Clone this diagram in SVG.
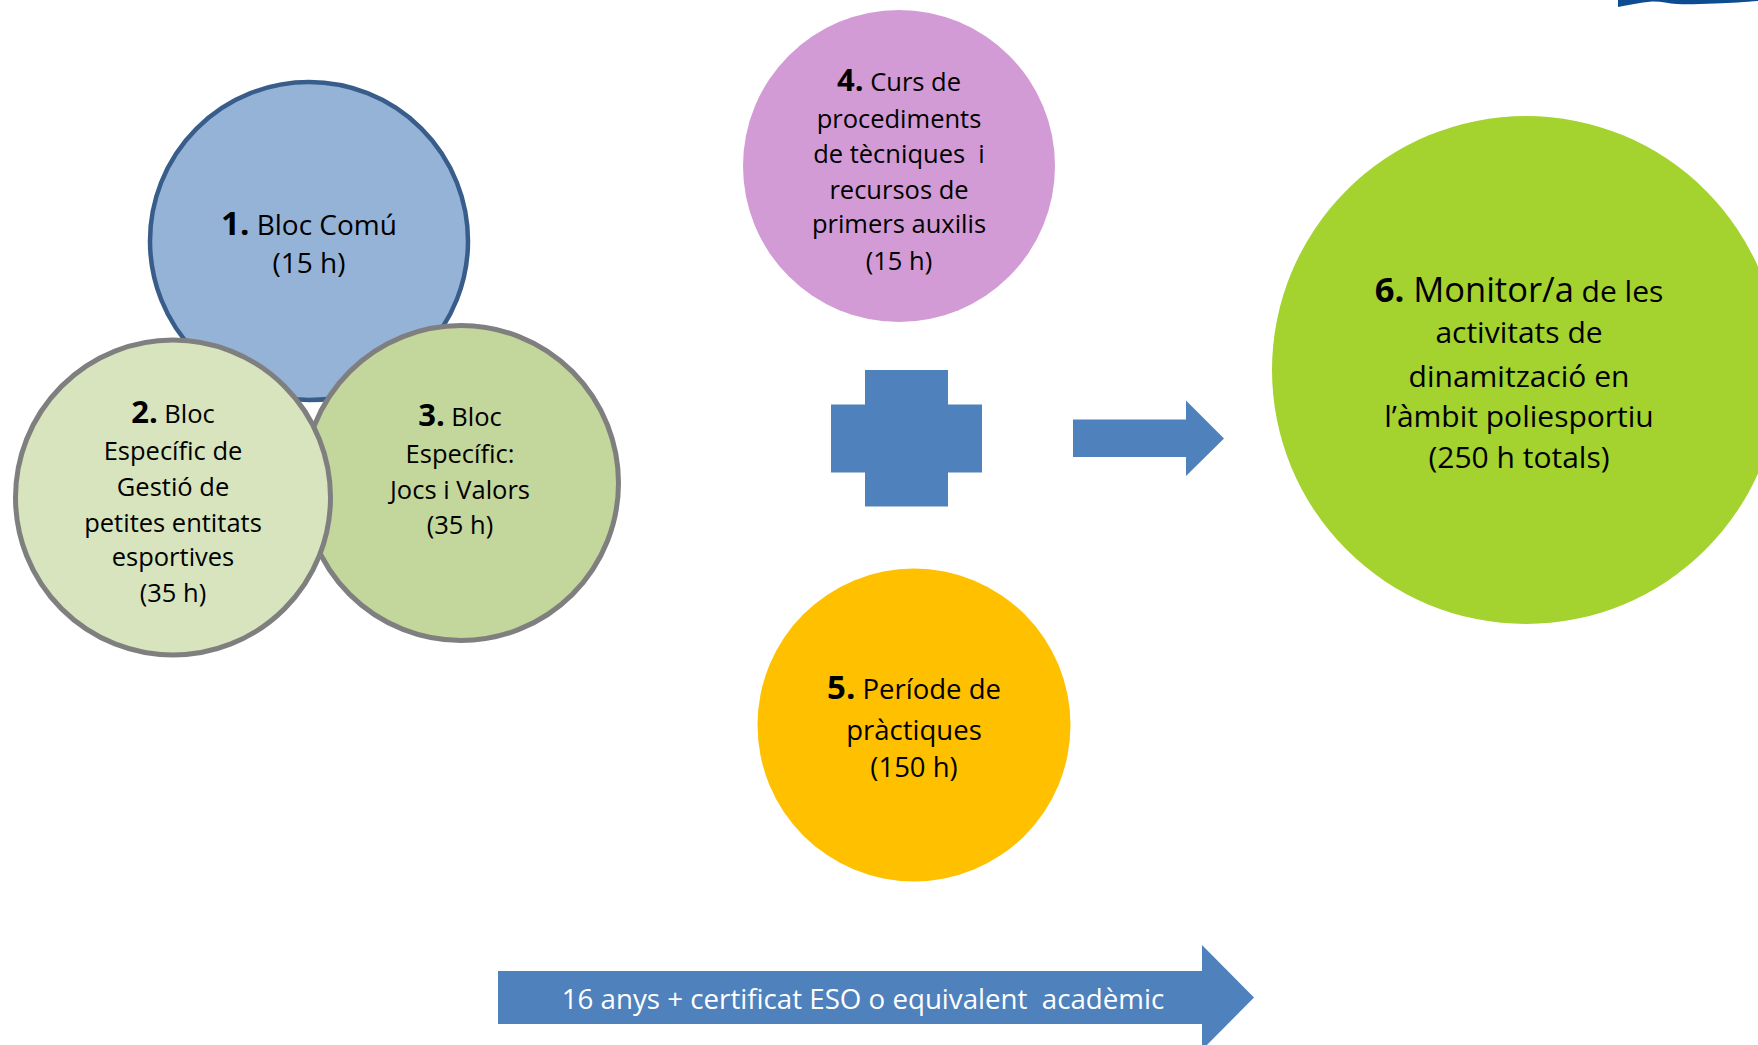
<svg xmlns="http://www.w3.org/2000/svg" width="1758" height="1045" viewBox="0 0 1758 1045">
<style>
  text { font-family: "Open Sans", "Liberation Sans", sans-serif; fill: #000; text-anchor: middle; }
  .b { font-weight: bold; }
  .t25 { font-size: 25.5px; }
  .t28 { font-size: 28px; }
  .t27 { font-size: 27.5px; }
  .t30 { font-size: 30px; }
  .n25 { font-size: 31px; }
  .n28 { font-size: 33px; }
  .n27 { font-size: 33px; }
  .big { font-size: 34.5px; }
  .white { fill: #FFFFFF; font-size: 27.7px; }
  .blue { fill: #4F81BD; }
  .pre { white-space: pre; }
</style>
<rect width="1758" height="1045" fill="#FFFFFF"/>

<path d="M1618,0 L1758,0 L1758,1 C1745,2 1732,3 1715,3.5 C1700,4 1688,4.5 1677,4 C1668,3.5 1660,1 1652,1.5 C1640,2.5 1628,5 1618,7 Z" fill="#0D4C91"/>

<g id="node1">
  <circle cx="309" cy="241" r="159" fill="#95B3D7" stroke="#385D8A" stroke-width="4.5"/>
  <text class="t28" x="309" y="235"><tspan class="b n28">1.</tspan> Bloc Comú</text>
  <text class="t28" x="309" y="273">(15 h)</text>
</g>

<g id="node3">
  <circle cx="461" cy="483" r="157.5" fill="#C3D69B" stroke="#7F7F7F" stroke-width="5"/>
  <text class="t25" x="460" y="426"><tspan class="b n25">3.</tspan> Bloc</text>
  <text class="t25" x="460" y="463">Específic:</text>
  <text class="t25" x="460" y="499">Jocs i Valors</text>
  <text class="t25" x="460" y="534">(35 h)</text>
</g>

<g id="node2">
  <circle cx="173" cy="497.5" r="157.5" fill="#D7E4BD" stroke="#7F7F7F" stroke-width="5"/>
  <text class="t25" x="173" y="423"><tspan class="b n25">2.</tspan> Bloc</text>
  <text class="t25" x="173" y="460">Específic de</text>
  <text class="t25" x="173" y="496">Gestió de</text>
  <text class="t25" x="173" y="532">petites entitats</text>
  <text class="t25" x="173" y="566">esportives</text>
  <text class="t25" x="173" y="602">(35 h)</text>
</g>

<g id="node4">
  <circle cx="899" cy="166" r="156" fill="#D29BD5"/>
  <text class="t25" x="899" y="91"><tspan class="b n25">4.</tspan> Curs de</text>
  <text class="t25" x="899" y="128">procediments</text>
  <text class="t25 pre" x="899" y="163" xml:space="preserve">de tècniques  i</text>
  <text class="t25" x="899" y="199">recursos de</text>
  <text class="t25" x="899" y="233">primers auxilis</text>
  <text class="t25" x="899" y="270">(15 h)</text>
</g>

<g id="node5">
  <circle cx="914" cy="725" r="156.5" fill="#FFC000"/>
  <text class="t27" x="914" y="699"><tspan class="b n27">5.</tspan> Període de</text>
  <text class="t27" x="914" y="740">pràctiques</text>
  <text class="t27" x="914" y="777">(150 h)</text>
</g>

<g id="node6">
  <circle cx="1526" cy="370" r="254" fill="#A4D22E"/>
  <text class="t30" x="1519" y="302"><tspan class="b big">6.</tspan><tspan class="big"> Monitor/a</tspan> de les</text>
  <text class="t30" x="1519" y="343">activitats de</text>
  <text class="t30" x="1519" y="387">dinamització en</text>
  <text class="t30" x="1519" y="427">l’àmbit poliesportiu</text>
  <text class="t30" x="1519" y="468">(250 h totals)</text>
</g>

<g id="plus">
  <path class="blue" d="M865,370 H948 V404.5 H982 V472.5 H948 V506.5 H865 V472.5 H831 V404.5 H865 Z"/>
</g>

<g id="connectors">
  <path id="arrow-result" class="blue" d="M1073,419.5 H1186 V400.5 L1224,438.5 L1186,476 V457 H1073 Z"/>
  <g id="arrow-requirement">
    <path class="blue" d="M498,971 H1202 V945 L1254,997.5 L1202,1050 V1024 H498 Z"/>
    <text class="white pre" x="863" y="1009" xml:space="preserve">16 anys + certificat ESO o equivalent  acadèmic</text>
  </g>
</g>
</svg>
